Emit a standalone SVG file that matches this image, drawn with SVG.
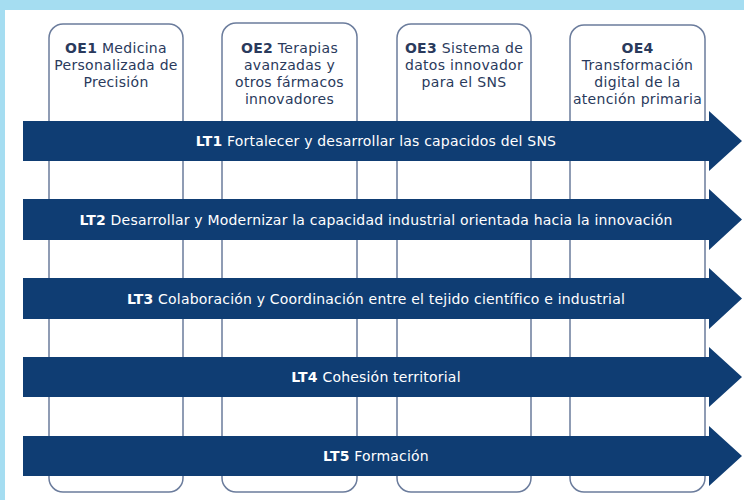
<svg xmlns="http://www.w3.org/2000/svg" width="744" height="500" viewBox="0 0 744 500">
<style>
.box{fill:#fff;stroke:#6b7c9c;stroke-width:1.5}
.arrow{fill:#0f3d73}
.hd{font-family:"DejaVu Sans","Liberation Sans",sans-serif;font-size:14px;letter-spacing:0.3px;fill:#2a3a5c;text-anchor:middle}
.lt{font-family:"DejaVu Sans","Liberation Sans",sans-serif;font-size:14px;letter-spacing:0.2px;fill:#fff;text-anchor:middle}
.b{font-weight:bold}
</style>
<rect x="0" y="0" width="744" height="500" fill="#a5ddf1"/>
<rect x="5" y="10" width="739" height="490" fill="#fff"/>
<g id="OE1">
<rect class="box" x="49" y="24" width="134" height="468" rx="14"/>
<text class="hd" x="116" y="53"><tspan class="b">OE1</tspan> Medicina</text>
<text class="hd" x="116" y="70">Personalizada de</text>
<text class="hd" x="116" y="87">Precisión</text>
</g>
<g id="OE2">
<rect class="box" x="222" y="23" width="135" height="469" rx="14"/>
<text class="hd" x="289.5" y="53"><tspan class="b">OE2</tspan> Terapias</text>
<text class="hd" x="289.5" y="70">avanzadas y</text>
<text class="hd" x="289.5" y="87">otros fármacos</text>
<text class="hd" x="289.5" y="104">innovadores</text>
</g>
<g id="OE3">
<rect class="box" x="397" y="24" width="134" height="468" rx="14"/>
<text class="hd" x="464" y="53"><tspan class="b">OE3</tspan> Sistema de</text>
<text class="hd" x="464" y="70">datos innovador</text>
<text class="hd" x="464" y="87">para el SNS</text>
</g>
<g id="OE4">
<rect class="box" x="570" y="25" width="135" height="467" rx="14"/>
<text class="hd b" x="637.5" y="53">OE4</text>
<text class="hd" x="637.5" y="70">Transformación</text>
<text class="hd" x="637.5" y="87">digital de la</text>
<text class="hd" x="637.5" y="104">atención primaria</text>
</g>
<g id="connectors">
<g id="LT1">
<polygon class="arrow" points="23,121 709,121 709,111 742,141 709,171 709,161 23,161"/>
<text class="lt" x="376" y="146"><tspan class="b">LT1</tspan> Fortalecer y desarrollar las capacidos del SNS</text>
</g>
<g id="LT2">
<polygon class="arrow" points="23,199 709,199 709,189 742,219.5 709,250 709,240 23,240"/>
<text class="lt" x="376" y="224.5"><tspan class="b">LT2</tspan> Desarrollar y Modernizar la capacidad industrial orientada hacia la innovación</text>
</g>
<g id="LT3">
<polygon class="arrow" points="23,278 709,278 709,268 742,298.5 709,329 709,319 23,319"/>
<text class="lt" x="376" y="303.5"><tspan class="b">LT3</tspan> Colaboración y Coordinación entre el tejido científico e industrial</text>
</g>
<g id="LT4">
<polygon class="arrow" points="23,357 709,357 709,347 742,377 709,407 709,397 23,397"/>
<text class="lt" x="376" y="382"><tspan class="b">LT4</tspan> Cohesión territorial</text>
</g>
<g id="LT5">
<polygon class="arrow" points="23,436 709,436 709,426 742,456 709,486 709,476 23,476"/>
<text class="lt" x="376" y="461"><tspan class="b">LT5</tspan> Formación</text>
</g>
</g>
</svg>
